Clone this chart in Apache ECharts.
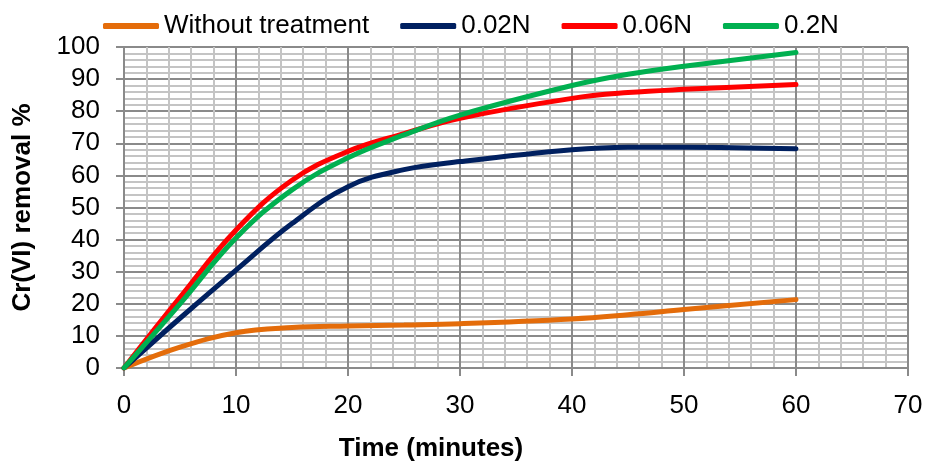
<!DOCTYPE html>
<html>
<head>
<meta charset="utf-8">
<script src="https://cdn.jsdelivr.net/npm/echarts@6/dist/echarts.min.js"></script>
<style>
  html, body { margin: 0; padding: 0; background: #fff; }
  #chart { width: 926px; height: 467px; }
</style>
</head>
<body>
<div id="chart"></div>
<script>
const times = [0, 5, 10, 15, 20, 25, 30, 40, 45, 50, 60];
const withoutTreatment = [0, 6.5, 11, 12.6, 13.1, 13.4, 13.8, 15.3, 16.6, 18.2, 21.3];
const n002 = [0, 15.5, 30.5, 45, 56.5, 61.8, 64.3, 68, 68.8, 68.8, 68.3];
const n006 = [0, 22, 43, 58.5, 67.5, 73, 77.8, 84, 85.8, 86.8, 88.3];
const n02 = [0, 20, 40.5, 55.5, 65.5, 72.6, 78.8, 88, 91.5, 94, 98.3];

const font = 'Liberation Sans, Arial, sans-serif';

function pairs(vals) {
    return times.map((t, i) => [t, vals[i]]);
}

function line(name, vals, color) {
    return {
        name: name,
        type: 'line',
        data: pairs(vals),
        smooth: 0.4,
        showSymbol: false,
        symbol: 'none',
        lineStyle: { color: color, width: 5, cap: 'round' },
        itemStyle: { color: color }
    };
}

const axisCommon = {
    type: 'value',
    min: 0,
    interval: 10,
    axisLine: { show: true, lineStyle: { color: '#8a8a8a', width: 2 } },
    axisTick: { show: true, length: 8, lineStyle: { color: '#8a8a8a', width: 2 } },
    splitLine: { show: true, lineStyle: { color: '#8a8a8a', width: 2 } },
    minorTick: { show: false, splitNumber: 5 },
    minorSplitLine: { show: true, lineStyle: { color: '#c4c4c4', width: 2 } },
    axisLabel: { color: '#000', fontSize: 26, fontFamily: font },
    nameTextStyle: { color: '#000', fontSize: 26, fontWeight: 'bold', fontFamily: font }
};

const chart = echarts.init(document.getElementById('chart'));
chart.setOption({
    animation: false,
    backgroundColor: '#fff',
    grid: { left: 124, right: 18, top: 47, bottom: 96 },
    legend: {
        top: 8,
        left: 98,
        itemWidth: 56,
        itemHeight: 6,
        itemGap: 31,
        icon: 'roundRect',
        textStyle: { color: '#000', fontSize: 26, fontFamily: font },
        data: ['Without treatment', '0.02N', '0.06N', '0.2N']
    },
    xAxis: Object.assign({}, axisCommon, {
        max: 70,
        name: 'Time (minutes)',
        nameLocation: 'middle',
        nameGap: 68,
        nameTextStyle: Object.assign({}, axisCommon.nameTextStyle, { padding: [0, 170, 0, 0] }),
        axisLabel: Object.assign({}, axisCommon.axisLabel, { margin: 25 })
    }),
    yAxis: Object.assign({}, axisCommon, {
        max: 100,
        name: 'Cr(VI) removal %',
        nameLocation: 'middle',
        nameRotate: 90,
        nameGap: 88,
        axisLabel: Object.assign({}, axisCommon.axisLabel, { margin: 24 })
    }),
    series: [
        line('Without treatment', withoutTreatment, '#E46C0A'),
        line('0.02N', n002, '#002060'),
        line('0.06N', n006, '#FF0000'),
        line('0.2N', n02, '#00B050')
    ]
});
window.addEventListener('resize', () => chart.resize());
</script>
</body>
</html>
